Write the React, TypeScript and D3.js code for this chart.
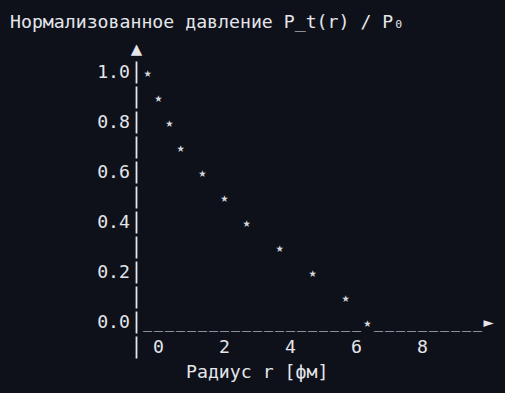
import { useEffect, useRef } from "react";
import * as d3 from "d3";

// radius (fm) and normalised pressure
const radius = [-0.33, 0, 0.33, 0.67, 1.33, 2, 2.67, 3.67, 4.67, 5.67, 6.33];
const pressure = [1.0, 0.9, 0.8, 0.7, 0.6, 0.5, 0.4, 0.3, 0.2, 0.1, 0.0];
const yTicks = [1.0, 0.8, 0.6, 0.4, 0.2, 0.0];
const xTicks = [0, 2, 4, 6, 8];
const title = "Нормализованное давление P_t(r) / P₀";
const xLabel = "Радиус r [фм]";

export default function App() {
  const ref = useRef<SVGSVGElement>(null);

  useEffect(() => {
    const width = 505;
    const height = 393;
    const cw = 11; // char cell width
    const left = 10;
    const colX = (c: number) => left + cw * c;
    const fg = "#e4e6eb";
    const font = "'DejaVu Sans Mono', monospace";

    const svg = d3.select(ref.current);
    svg.selectAll("*").remove();
    svg.attr("viewBox", `0 0 ${width} ${height}`);

    svg.append("rect").attr("width", width).attr("height", height).attr("fill", "#0f111a");

    const y = d3.scaleLinear().domain([0, 1]).range([322, 72]);
    const x = d3.scaleLinear().domain([0, 8]).range([colX(13) + cw / 2, colX(37) + cw / 2]);
    const rowH = (y(0) - y(1)) / 10;
    const axisCol = 11;
    const axisX = colX(axisCol) + cw / 2;

    const g = svg
      .append("g")
      .attr("font-family", font)
      .attr("font-size", 18.2)
      .attr("fill", fg);

    g.append("text")
      .attr("x", left)
      .attr("y", 22)
      .attr("dy", "0.35em")
      .text(title);

    // y axis arrow + bars
    g.append("text")
      .attr("x", axisX)
      .attr("y", y(1) - rowH)
      .attr("dy", "0.4em")
      .attr("text-anchor", "middle")
      .attr("font-size", 19)
      .text("▲");

    const rows = d3.range(0, 11).map((i) => i / 10);
    g.append("g")
      .selectAll("line")
      .data([...rows, -0.1])
      .join("line")
      .attr("x1", axisX)
      .attr("x2", axisX)
      .attr("y1", (d) => y(d) - rowH / 2 + 2)
      .attr("y2", (d) => y(d) + rowH / 2 - 1)
      .attr("stroke", fg)
      .attr("stroke-width", 1.8);

    g.append("g")
      .selectAll("text")
      .data(yTicks)
      .join("text")
      .attr("x", colX(axisCol) - 1)
      .attr("y", (d) => y(d))
      .attr("dy", "0.35em")
      .attr("text-anchor", "end")
      .text((d) => d3.format(".1f")(d));

    // x axis: underscores, skipping cells taken by a star on the zero row
    const starCols = new Set(
      radius.filter((_, i) => pressure[i] === 0).map((r) => Math.round((x(r) - left - cw / 2) / cw)),
    );
    const lastCol = 42;
    const cols = d3.range(axisCol + 1, lastCol + 1).filter((c) => !starCols.has(c));
    g.append("g")
      .selectAll("text")
      .data(cols)
      .join("text")
      .attr("x", (c) => colX(c) + cw / 2)
      .attr("y", y(0) + 1)
      .attr("dy", "0.35em")
      .attr("text-anchor", "middle")
      .attr("font-size", 15)
      .text("_");

    g.append("text")
      .attr("x", colX(lastCol + 1) + cw / 2)
      .attr("y", y(0))
      .attr("dy", "0.35em")
      .attr("text-anchor", "middle")
      .attr("font-size", 17)
      .text("►");

    g.append("g")
      .selectAll("text")
      .data(xTicks)
      .join("text")
      .attr("x", (d) => x(d))
      .attr("y", y(0) + rowH)
      .attr("dy", "0.35em")
      .attr("text-anchor", "middle")
      .text((d) => d);

    g.append("text")
      .attr("x", colX(16))
      .attr("y", y(0) + 2 * rowH)
      .attr("dy", "0.35em")
      .text(xLabel);

    // stars
    g.append("g")
      .selectAll("text")
      .data(radius.map((r, i) => ({ r, p: pressure[i] })))
      .join("text")
      .attr("x", (d) => x(d.r))
      .attr("y", (d) => y(d.p))
      .attr("dy", "0.35em")
      .attr("text-anchor", "middle")
      .attr("font-size", 13)
      .attr("fill", "#d6d8de")
      .text("★");
  }, []);

  return (
    <svg
      ref={ref}
      width={505}
      height={393}
      style={{ position: "fixed", left: 0, top: 0, display: "block" }}
    />
  );
}
